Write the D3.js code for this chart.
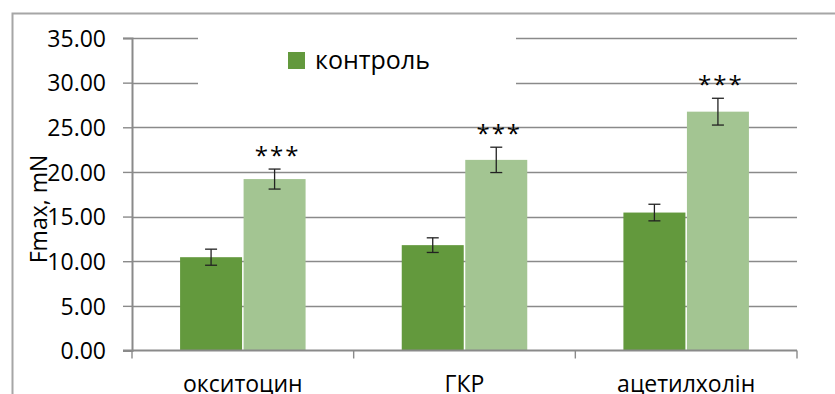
<!DOCTYPE html>
<html><head><meta charset="utf-8">
<script src="https://cdn.jsdelivr.net/npm/d3@7/dist/d3.min.js"></script>
<style>
html,body{margin:0;padding:0;background:#fff;}
svg{display:block;font-family:"Open Sans",sans-serif;}
</style></head>
<body><svg id="c" width="835" height="394"></svg>
<script>
const categories = ["окситоцин", "ГКР", "ацетилхолін"];
const seriesNames = ["контроль", "дослід"];
const controlValues = [10.45, 11.8, 15.45];
const controlErrors = [0.9, 0.82, 0.93];
const testValues = [19.2, 21.35, 26.75];
const testErrors = [1.12, 1.42, 1.5];
const significance = ["***", "***", "***"];
const yTicks = [0, 5, 10, 15, 20, 25, 30, 35];
const yTitle = "Fmax, mN";

const colors = ["#63993d", "#a3c592"];
const FONT = "'Open Sans', sans-serif";
const svg = d3.select("#c");
const pLeft = 132, pRight = 797, pTop = 38, pBottom = 350.5;

const y = d3.scaleLinear().domain([0, 35]).range([pBottom, pTop]);
const x0 = d3.scaleBand().domain(categories).range([pLeft, pRight]).padding(0);
const x1 = d3.scaleBand().domain(seriesNames).range([0, x0.bandwidth()]).paddingInner(0.024).paddingOuter(0.757);

// outer chart border
svg.append("rect").attr("x", 12.5).attr("y", 13.5).attr("width", 900).attr("height", 500)
  .attr("fill", "none").attr("stroke", "#a6a6a6").attr("stroke-width", 2);

// gridlines
svg.append("g").selectAll("line").data(yTicks.filter(d => d > 0)).join("line")
  .attr("x1", pLeft).attr("x2", pRight)
  .attr("y1", d => Math.round(y(d)) + 0.5).attr("y2", d => Math.round(y(d)) + 0.5)
  .attr("stroke", "#8a8a8a").attr("stroke-width", 1.4);

// y axis
const yAxis = svg.append("g").attr("transform", `translate(${pLeft},0)`)
  .call(d3.axisLeft(y).tickValues(yTicks).tickFormat(d3.format(".2f")).tickSize(9).tickPadding(17));
yAxis.select(".domain").attr("stroke", "#8a8a8a").attr("stroke-width", 2);
yAxis.selectAll(".tick line").attr("stroke", "#8a8a8a").attr("stroke-width", 1.4);
yAxis.selectAll(".tick text").attr("font-size", 23).attr("fill", "#000").attr("font-family", FONT).attr("dy", "0.36em");

// bars
const data = categories.map((c, i) => ({
  cat: c,
  vals: [
    {s: seriesNames[0], v: controlValues[i], e: controlErrors[i], sig: ""},
    {s: seriesNames[1], v: testValues[i], e: testErrors[i], sig: significance[i]}
  ]
}));
const groups = svg.append("g").selectAll("g").data(data).join("g")
  .attr("transform", d => `translate(${x0(d.cat)},0)`);
groups.selectAll("rect").data(d => d.vals).join("rect")
  .attr("x", d => x1(d.s)).attr("width", x1.bandwidth())
  .attr("y", d => y(d.v)).attr("height", d => y(0) - y(d.v))
  .attr("fill", (d, i) => colors[i]);

// error bars
const eb = groups.selectAll("g.err").data(d => d.vals).join("g").attr("class", "err");
eb.append("line")
  .attr("x1", d => x1(d.s) + x1.bandwidth() / 2).attr("x2", d => x1(d.s) + x1.bandwidth() / 2)
  .attr("y1", d => y(d.v + d.e)).attr("y2", d => y(d.v - d.e));
eb.append("line")
  .attr("x1", d => x1(d.s) + x1.bandwidth() / 2 - 6).attr("x2", d => x1(d.s) + x1.bandwidth() / 2 + 6)
  .attr("y1", d => y(d.v + d.e)).attr("y2", d => y(d.v + d.e));
eb.append("line")
  .attr("x1", d => x1(d.s) + x1.bandwidth() / 2 - 6).attr("x2", d => x1(d.s) + x1.bandwidth() / 2 + 6)
  .attr("y1", d => y(d.v - d.e)).attr("y2", d => y(d.v - d.e));
eb.selectAll("line").attr("stroke", "#222").attr("stroke-width", 1.3);

// significance
groups.selectAll("text.sig").data(d => d.vals.filter(v => v.sig)).join("text").attr("class", "sig")
  .attr("x", d => x1(d.s) + x1.bandwidth() / 2 + 3)
  .attr("y", d => y(d.v + d.e) - 5)
  .attr("text-anchor", "middle").attr("font-size", 24).attr("letter-spacing", 2)
  .text(d => d.sig);

// x axis
svg.append("line").attr("x1", pLeft - 9).attr("x2", pRight).attr("y1", pBottom).attr("y2", pBottom)
  .attr("stroke", "#8a8a8a").attr("stroke-width", 2);
const bounds = [pLeft].concat(categories.map(c => x0(c) + x0.bandwidth()));
svg.append("g").selectAll("line").data(bounds).join("line")
  .attr("x1", d => d).attr("x2", d => d).attr("y1", pBottom).attr("y2", pBottom + 8)
  .attr("stroke", "#8a8a8a").attr("stroke-width", 1.4);
svg.append("g").selectAll("text").data(categories).join("text")
  .attr("x", d => x0(d) + x0.bandwidth() / 2).attr("y", 392)
  .attr("text-anchor", "middle").attr("font-size", 23).text(d => d);

// y title
svg.append("text").attr("transform", "translate(47,209) rotate(-90)")
  .attr("text-anchor", "middle").attr("font-size", 23).text(yTitle);

// legend
svg.append("rect").attr("x", 198).attr("y", 25).attr("width", 318).attr("height", 80).attr("fill", "#fff");
svg.append("rect").attr("x", 288).attr("y", 52).attr("width", 17).attr("height", 17).attr("fill", colors[0]);
svg.append("text").attr("x", 315).attr("y", 68.5).attr("font-size", 25).text(seriesNames[0]);
</script></body></html>
